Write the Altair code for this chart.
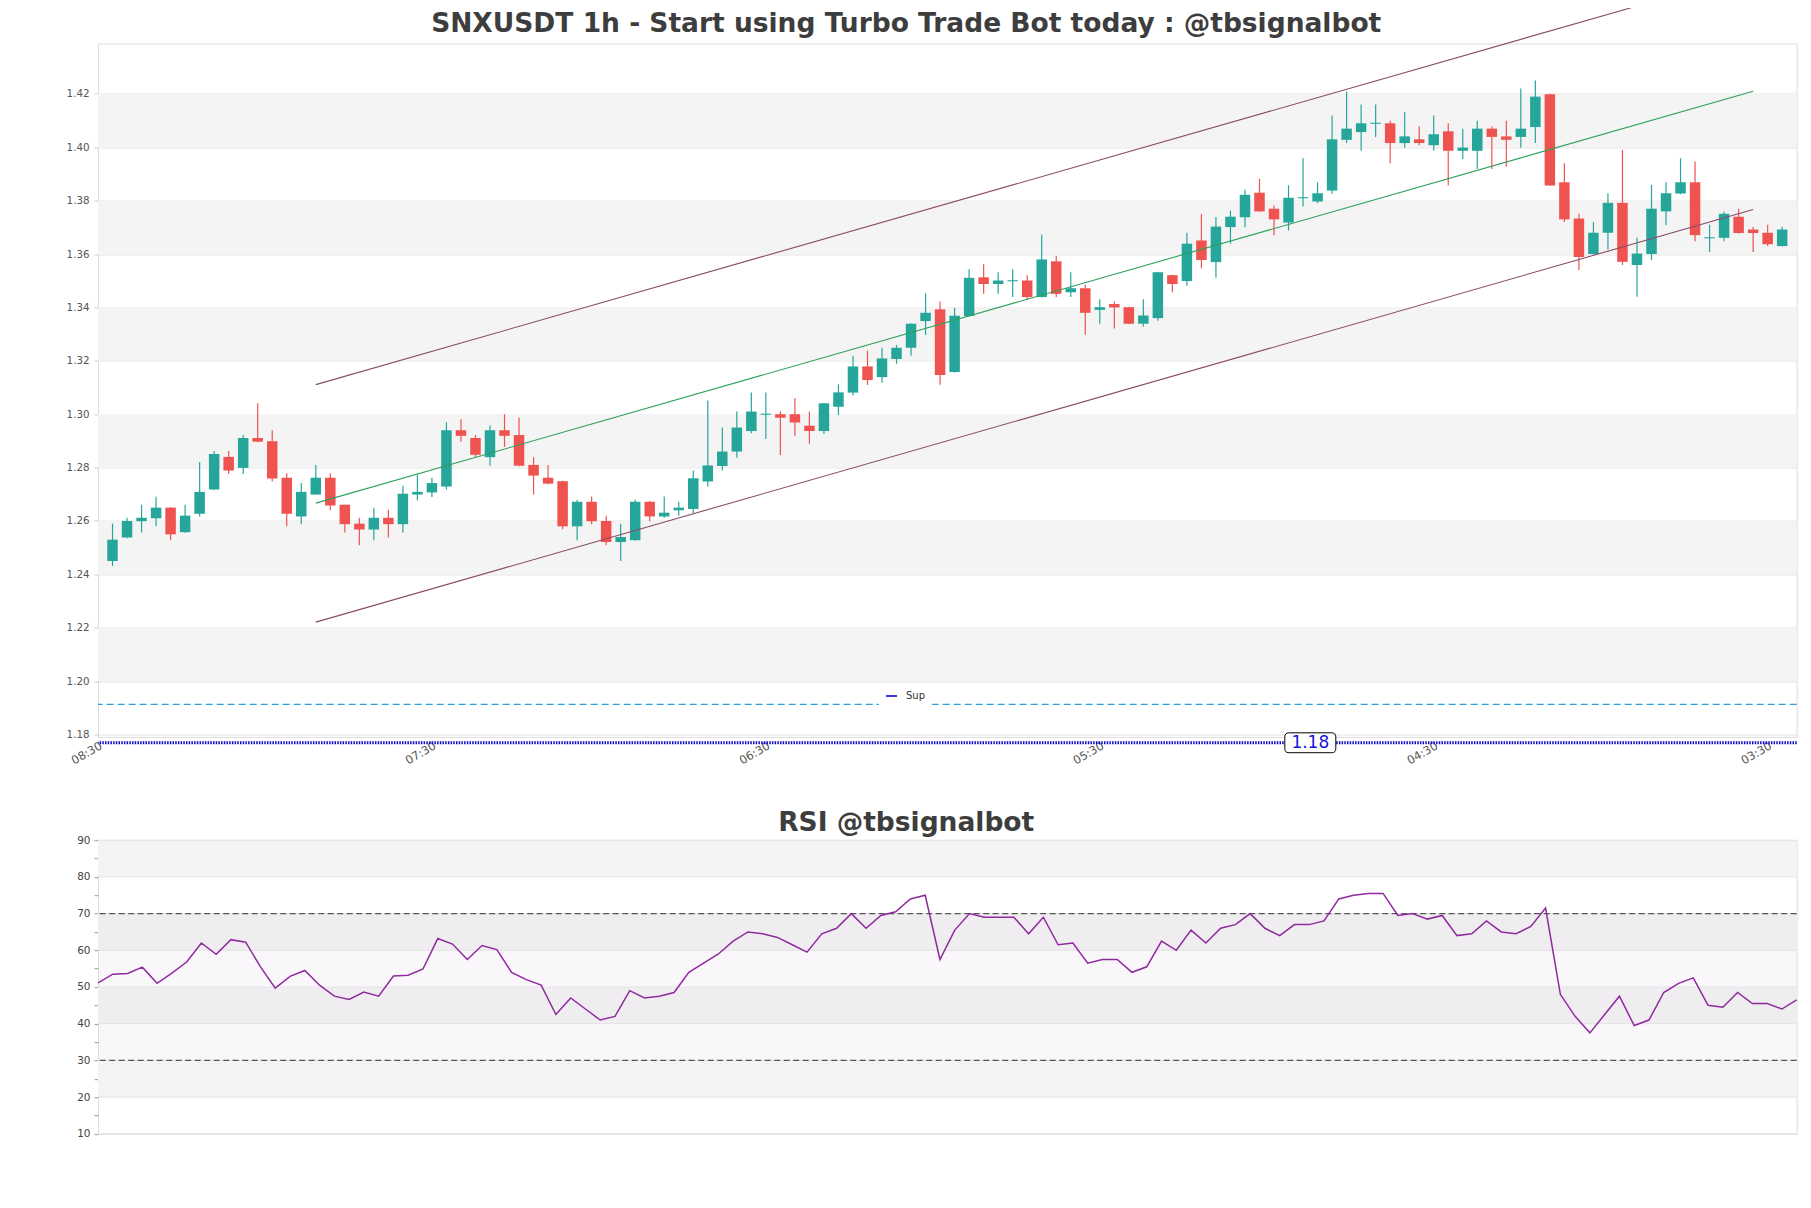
import altair as alt
import pandas as pd

# ---------------- data ----------------
OPEN = [1.2450, 1.2538, 1.2599, 1.2610, 1.2650, 1.2558, 1.2627, 1.2718, 1.2840, 1.2799,
        1.2911, 1.2899, 1.2762, 1.2617, 1.2699, 1.2762, 1.2661, 1.2590, 1.2568, 1.2612,
        1.2588, 1.2699, 1.2707, 1.2729, 1.2940, 1.2911, 1.2839, 1.2940, 1.2922, 1.2810,
        1.2762, 1.2749, 1.2580, 1.2672, 1.2600, 1.2521, 1.2528, 1.2672, 1.2617, 1.2640,
        1.2645, 1.2748, 1.2806, 1.2860, 1.2937, 1.2998, 1.3000, 1.3000, 1.2957, 1.2937,
        1.3028, 1.3081, 1.3179, 1.3139, 1.3207, 1.3249, 1.3349, 1.3393, 1.3158, 1.3368,
        1.3513, 1.3488, 1.3498, 1.3501, 1.3439, 1.3573, 1.3457, 1.3472, 1.3391, 1.3413,
        1.3401, 1.3339, 1.3360, 1.3521, 1.3499, 1.3651, 1.3570, 1.3701, 1.3738, 1.3830,
        1.3770, 1.3718, 1.3809, 1.3797, 1.3838, 1.4028, 1.4057, 1.4088, 1.4090, 1.4016,
        1.4030, 1.4008, 1.4060, 1.3987, 1.3987, 1.4070, 1.4041, 1.4039, 1.4076, 1.4199,
        1.3869, 1.3733, 1.3600, 1.3680, 1.3792, 1.3559, 1.3600, 1.3760, 1.3827, 1.3869,
        1.3659, 1.3661, 1.3740, 1.3692, 1.3680, 1.3630]
HIGH = [1.2590, 1.2612, 1.2661, 1.2691, 1.2652, 1.2661, 1.2821, 1.2862, 1.2862, 1.2922,
        1.3041, 1.2940, 1.2779, 1.2742, 1.2810, 1.2779, 1.2661, 1.2612, 1.2650, 1.2642,
        1.2732, 1.2774, 1.2762, 1.2970, 1.2981, 1.2922, 1.2958, 1.3000, 1.2988, 1.2839,
        1.2810, 1.2751, 1.2680, 1.2692, 1.2620, 1.2590, 1.2680, 1.2674, 1.2692, 1.2672,
        1.2789, 1.3051, 1.2950, 1.3010, 1.3081, 1.3081, 1.3010, 1.3060, 1.3010, 1.3043,
        1.3112, 1.3219, 1.3238, 1.3249, 1.3259, 1.3341, 1.3453, 1.3422, 1.3399, 1.3543,
        1.3562, 1.3532, 1.3543, 1.3521, 1.3673, 1.3593, 1.3532, 1.3485, 1.3431, 1.3422,
        1.3403, 1.3431, 1.3534, 1.3523, 1.3680, 1.3750, 1.3739, 1.3763, 1.3841, 1.3882,
        1.3782, 1.3858, 1.3959, 1.3869, 1.4119, 1.4209, 1.4160, 1.4160, 1.4100, 1.4132,
        1.4078, 1.4119, 1.4090, 1.4070, 1.4100, 1.4078, 1.4100, 1.4220, 1.4250, 1.4201,
        1.3940, 1.3751, 1.3720, 1.3828, 1.3990, 1.3661, 1.3859, 1.3869, 1.3959, 1.3947,
        1.3710, 1.3760, 1.3770, 1.3702, 1.3710, 1.3702]
LOW = [1.2431, 1.2535, 1.2557, 1.2580, 1.2528, 1.2556, 1.2617, 1.2716, 1.2776, 1.2776,
       1.2895, 1.2748, 1.2580, 1.2588, 1.2699, 1.2640, 1.2557, 1.2509, 1.2528, 1.2538,
       1.2557, 1.2677, 1.2690, 1.2718, 1.2897, 1.2839, 1.2807, 1.2878, 1.2805, 1.2699,
       1.2738, 1.2569, 1.2528, 1.2588, 1.2509, 1.2450, 1.2526, 1.2599, 1.2612, 1.2620,
       1.2629, 1.2729, 1.2789, 1.2837, 1.2929, 1.2907, 1.2847, 1.2919, 1.2889, 1.2926,
       1.2997, 1.3070, 1.3110, 1.3118, 1.3189, 1.3219, 1.3297, 1.3110, 1.3156, 1.3366,
       1.3451, 1.3451, 1.3439, 1.3431, 1.3437, 1.3439, 1.3439, 1.3298, 1.3339, 1.3321,
       1.3337, 1.3329, 1.3350, 1.3457, 1.3481, 1.3547, 1.3511, 1.3639, 1.3701, 1.3758,
       1.3671, 1.3689, 1.3778, 1.3791, 1.3826, 1.4016, 1.3987, 1.4039, 1.3940, 1.3998,
       1.4008, 1.3987, 1.3857, 1.3956, 1.3919, 1.3919, 1.3927, 1.3998, 1.4016, 1.3855,
       1.3720, 1.3540, 1.3598, 1.3617, 1.3559, 1.3440, 1.3578, 1.3708, 1.3825, 1.3648,
       1.3608, 1.3648, 1.3677, 1.3608, 1.3630, 1.3628]
CLOSE = [1.2530, 1.2600, 1.2612, 1.2650, 1.2550, 1.2620, 1.2709, 1.2851, 1.2789, 1.2911,
         1.2897, 1.2759, 1.2627, 1.2709, 1.2762, 1.2658, 1.2588, 1.2568, 1.2612, 1.2588,
         1.2702, 1.2709, 1.2742, 1.2940, 1.2919, 1.2848, 1.2940, 1.2919, 1.2807, 1.2770,
         1.2740, 1.2580, 1.2672, 1.2599, 1.2521, 1.2540, 1.2672, 1.2617, 1.2631, 1.2650,
         1.2760, 1.2808, 1.2860, 1.2950, 1.3010, 1.3002, 1.2987, 1.2969, 1.2937, 1.3041,
         1.3082, 1.3179, 1.3128, 1.3209, 1.3249, 1.3339, 1.3380, 1.3147, 1.3369, 1.3511,
         1.3488, 1.3501, 1.3502, 1.3439, 1.3580, 1.3451, 1.3472, 1.3380, 1.3401, 1.3400,
         1.3339, 1.3370, 1.3532, 1.3488, 1.3639, 1.3578, 1.3703, 1.3740, 1.3822, 1.3760,
         1.3730, 1.3811, 1.3813, 1.3828, 1.4030, 1.4070, 1.4090, 1.4092, 1.4016, 1.4041,
         1.4016, 1.4049, 1.3987, 1.3999, 1.4070, 1.4039, 1.4028, 1.4070, 1.4190, 1.3857,
         1.3730, 1.3589, 1.3680, 1.3792, 1.3571, 1.3602, 1.3770, 1.3828, 1.3869, 1.3671,
         1.3663, 1.3751, 1.3679, 1.3679, 1.3637, 1.3692]
RSI = [51.1, 53.5, 53.7, 55.4, 51.0, 53.8, 56.8, 62.0, 58.9, 62.9,
       62.2, 55.5, 49.7, 52.9, 54.5, 50.5, 47.5, 46.6, 48.6, 47.5,
       53.0, 53.2, 54.9, 63.2, 61.7, 57.5, 61.3, 60.2,
       54, 52, 50.5, 42.5, 47, 44, 41, 42, 49, 47,
       47.5, 48.5, 54, 56.5, 59, 62.5, 65, 64.5, 63.5, 61.5,
       59.5, 64.5, 66, 70, 66, 69.5, 70.5, 74, 75, 57.5,
       65.5, 70, 69, 69, 69, 64.5, 69, 61.5, 62, 56.5,
       57.5, 57.5, 54, 55.5, 62.5, 60, 65.5, 62, 66, 67,
       70, 66, 64, 67, 67, 68, 74, 75, 75.5, 75.5,
       69.5, 70, 68.5, 69.5, 64, 64.5, 68, 65, 64.5, 66.5,
       71.5, 48, 42, 37.5, 42.5, 47.5, 39.5, 41, 48.5, 51,
       52.5, 45, 44.5, 48.5, 45.5, 45.5, 44, 46.5]

X_TICKS = [-1, 22, 45, 68, 91, 114]
X_LABELS = ["08:30", "07:30", "06:30", "05:30", "04:30", "03:30"]
PRICE_TICKS = [1.18, 1.20, 1.22, 1.24, 1.26, 1.28, 1.30, 1.32, 1.34, 1.36, 1.38, 1.40, 1.42]
PRICE_BAND_LO = [1.20, 1.24, 1.28, 1.32, 1.36, 1.40]
PRICE_BAND_HI = [1.22, 1.26, 1.30, 1.34, 1.38, 1.42]
RSI_TICKS = [10, 15, 20, 25, 30, 35, 40, 45, 50, 55, 60, 65, 70, 75, 80, 85, 90]
RSI_GRID = [10, 20, 30, 40, 50, 60, 70, 80, 90]
RSI_BAND_LO = [20, 40, 60, 80]
RSI_BAND_HI = [30, 50, 70, 90]
RSI_LEVELS = [30, 70]

CH_X = [14, 113]
CH_MID = [1.2667, 1.4210]
CH_LOW = [1.2221, 1.3767]
CH_UP_X = [14, 104.6]
CH_UP = [1.3111, 1.4523]

SUP_LEVEL = 1.1769
SUP2_LEVEL = 1.1913
SUP_TEXT = "1.18"
SUP_TEXT_X = 82.5

MAIN_TITLE = "SNXUSDT 1h - Start using Turbo Trade Bot today : @tbsignalbot"
RSI_TITLE = "RSI @tbsignalbot"

# ---------------- layout / style ----------------
W = 1698.7
H = 693.4
RH = 293.6
TITLE_CX = 808.2          # title centre, relative to the plot's left edge
GREEN = "#26a69a"
RED = "#ef5350"
FONT = "DejaVu Sans"

candles = pd.DataFrame({"idx": list(range(len(OPEN))), "open": OPEN, "high": HIGH,
                        "low": LOW, "close": CLOSE})

xscale = alt.Scale(domain=[-1, 116], nice=False, zero=False, padding=0)
yscale = alt.Scale(domain=[1.1791, 1.4389], nice=False, zero=False)

label_expr = "[" + ",".join("'%s'" % s for s in X_LABELS) + "][round((datum.value + 1) / 23)]"
xaxis = alt.Axis(values=X_TICKS, labelExpr=label_expr, labelAngle=-30, labelAlign="right",
                 labelBaseline="top", ticks=False, grid=False, domain=False, labelPadding=3,
                 labelFontSize=11.5, labelColor="#555555", title=None, labelFont=FONT)
yaxis = alt.Axis(values=PRICE_TICKS, format=".2f", grid=True, gridColor="#e3e3e3",
                 domain=False, ticks=True, tickColor="#cccccc", tickSize=4, labelPadding=5,
                 labelFontSize=10.3, labelColor="#555555", title=None, labelFont=FONT)


def X(f):
    return alt.X(f, type="quantitative", scale=xscale, axis=xaxis)


def Y(f):
    return alt.Y(f, type="quantitative", scale=yscale, axis=yaxis)


bands = alt.Chart(pd.DataFrame({"lo": PRICE_BAND_LO, "hi": PRICE_BAND_HI})).mark_rect(
    color="#f4f4f4").encode(y=Y("lo"), y2="hi")

chan = pd.DataFrame({
    "x": CH_X + CH_X + CH_UP_X,
    "y": CH_MID + CH_LOW + CH_UP,
    "line": ["mid", "mid", "low", "low", "up", "up"],
})
chan_mid = alt.Chart(chan[chan.line == "mid"]).mark_line(color="#2ca05a", strokeWidth=1.1).encode(
    x=X("x"), y=Y("y"))
chan_out = alt.Chart(chan[chan.line != "mid"]).mark_line(color="#8a4a68", strokeWidth=1.1).encode(
    x=X("x"), y=Y("y"), detail="line:N")

sup2 = alt.Chart(pd.DataFrame({"y": [SUP2_LEVEL]})).mark_rule(
    color="#2b9fd6", strokeWidth=1.3, strokeDash=[7, 4]).encode(y=Y("y"))
sup = alt.Chart(pd.DataFrame({"y": [SUP_LEVEL], "name": ["Sup"]})).mark_rule(
    strokeWidth=3, strokeDash=[1.5, 1.2]).encode(
    y=Y("y"),
    color=alt.Color("name:N", scale=alt.Scale(domain=["Sup"], range=["#0c0cc8"]),
                    legend=alt.Legend(title=None, orient="none", legendX=781, legendY=640,
                                      symbolType="stroke", symbolStrokeWidth=1.6, symbolSize=121,
                                      symbolDash=[20, 0],
                                      labelFontSize=10, labelFont=FONT, labelColor="#333333",
                                      fillColor="white", padding=6, labelOffset=8)))

cond = alt.condition("datum.close >= datum.open", alt.value(GREEN), alt.value(RED))
wicks = alt.Chart(candles).mark_rule(strokeWidth=1.2).encode(x=X("idx"), y=Y("low"), y2="high", color=cond)
bodies = alt.Chart(candles).mark_bar(width=10.5).encode(x=X("idx"), y=Y("open"), y2="close", color=cond)

box_path = ("M -0.84,-0.39 L 0.84,-0.39 Q 1,-0.39 1,-0.23 L 1,0.23 Q 1,0.39 0.84,0.39 "
            "L -0.84,0.39 Q -1,0.39 -1,0.23 L -1,-0.23 Q -1,-0.39 -0.84,-0.39 Z")
lbl_df = pd.DataFrame({"x": [SUP_TEXT_X], "y": [SUP_LEVEL], "t": [SUP_TEXT]})
lbl_box = alt.Chart(lbl_df).mark_point(shape=box_path, size=2601, filled=True, fill="white",
                                       stroke="black", strokeWidth=1, opacity=1).encode(x=X("x"), y=Y("y"))
lbl_txt = alt.Chart(lbl_df).mark_text(font=FONT, fontSize=17, color="#1414e0", baseline="middle",
                                      align="center", dy=0.5).encode(x=X("x"), y=Y("y"), text="t:N")

# invisible rule fixing the page origin of the plot area
anchor = alt.Chart(pd.DataFrame({"a": [0]})).mark_rule(strokeOpacity=0, strokeWidth=1).encode(
    x=alt.value(-88.8), x2=alt.value(0), y=alt.value(-35.4))

title_mark = dict(font=FONT, fontSize=26.5, fontWeight="bold", color="#3d3d3d",
                  align="center", baseline="alphabetic")
main_title = alt.Chart(pd.DataFrame({"t": [MAIN_TITLE]})).mark_text(**title_mark).encode(
    x=alt.value(TITLE_CX), y=alt.value(-11.2), text="t:N")

main = alt.layer(bands, sup2, sup, wicks, bodies, chan_out, chan_mid, lbl_box, lbl_txt,
                 main_title, anchor).properties(width=W, height=H)

# ---------------- RSI panel ----------------
rx = alt.Scale(domain=[0, len(RSI) - 1], nice=False, zero=False, padding=0)
ry = alt.Scale(domain=[10, 90], nice=False, zero=False)
ryaxis = alt.Axis(values=RSI_TICKS, labelExpr="datum.value % 10 == 0 ? datum.label : ''",
                  grid=False, domain=False, ticks=True, tickColor="#999999", tickSize=4,
                  labelPadding=4, labelFontSize=10.5, labelColor="#444444", title=None, labelFont=FONT)


def RY(f):
    return alt.Y(f, type="quantitative", scale=ry, axis=ryaxis)


rsi_df = pd.DataFrame({"i": list(range(len(RSI))), "rsi": RSI})
r_bands = alt.Chart(pd.DataFrame({"lo": RSI_BAND_LO, "hi": RSI_BAND_HI})).mark_rect(
    color="#f4f4f4").encode(y=RY("lo"), y2="hi")
r_hatch = alt.Chart(pd.DataFrame({"lo": [RSI_LEVELS[0]], "hi": [RSI_LEVELS[1]]})).mark_rect(
    color="#e2cde8", opacity=0.16).encode(y=RY("lo"), y2="hi")
r_grid = alt.Chart(pd.DataFrame({"g": RSI_GRID})).mark_rule(color="#e3e3e3", strokeWidth=1).encode(y=RY("g"))
r_lvl = alt.Chart(pd.DataFrame({"g": RSI_LEVELS})).mark_rule(
    color="#555555", strokeWidth=1.3, strokeDash=[6, 3.5]).encode(y=RY("g"))
r_line = alt.Chart(rsi_df).mark_line(color="#8f2a9e", strokeWidth=1.5).encode(
    x=alt.X("i:Q", scale=rx, axis=None), y=RY("rsi"))
r_title = alt.Chart(pd.DataFrame({"t": [RSI_TITLE]})).mark_text(**title_mark).encode(
    x=alt.value(TITLE_CX), y=alt.value(-9.5), text="t:N")

rsi_chart = alt.layer(r_bands, r_hatch, r_grid, r_lvl, r_line, r_title).properties(width=W, height=RH)

chart = alt.VConcatChart(vconcat=[main, rsi_chart], spacing=102.7, bounds="flush").properties(
    padding={"top": -3.5, "left": 0, "right": 0, "bottom": 0}, background="white"
).configure_view(stroke="#d9d9d9", strokeWidth=1).configure(font=FONT)

chart.save("out.html", embed_options={"renderer": "svg", "actions": False})
